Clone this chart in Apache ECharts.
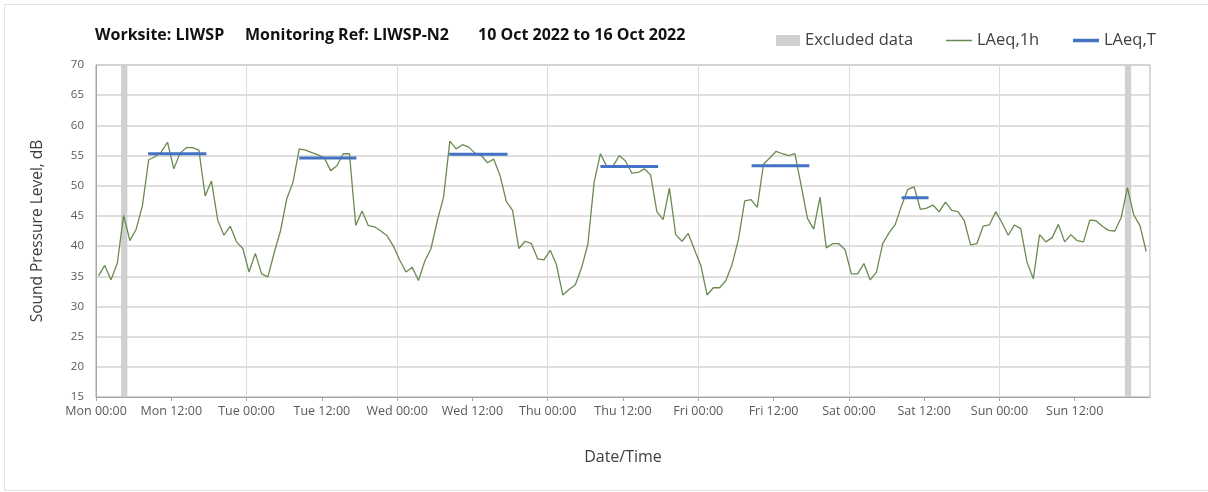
<!DOCTYPE html>
<html><head><meta charset="utf-8">
<script src="https://cdn.jsdelivr.net/npm/echarts@6/dist/echarts.min.js"></script>
<style>html,body{margin:0;padding:0;background:#fff}#c{width:1208px;height:492px}</style>
</head><body><div id="c"></div>
<script>
// ---- data ----
const tickLabels = ['Mon 00:00','Mon 12:00','Tue 00:00','Tue 12:00','Wed 00:00','Wed 12:00',
  'Thu 00:00','Thu 12:00','Fri 00:00','Fri 12:00','Sat 00:00','Sat 12:00','Sun 00:00','Sun 12:00'];
// hourly LAeq,1h values, hour 0 = Mon 10 Oct 2022 00:00
const laeq1h = [
  35.1,36.8,34.4,37.2,45.1,40.9,42.8,46.7,54.3,54.8,55.6,57.2,52.8,55.4,56.3,56.3,55.9,48.3,50.8,44.3,41.8,43.3,40.7,39.6,
  35.7,38.8,35.4,34.9,38.9,42.5,47.8,50.6,56.1,55.9,55.5,55.1,54.6,52.5,53.3,55.3,55.3,43.4,45.8,43.4,43.2,42.5,41.7,40.0,
  37.7,35.7,36.5,34.3,37.5,39.6,44.2,48.1,57.4,56.1,56.8,56.4,55.4,55.0,53.8,54.4,51.7,47.4,45.9,39.6,40.8,40.4,37.9,37.7,
  39.3,36.9,31.9,32.8,33.6,36.4,40.3,50.6,55.3,53.2,53.2,55.0,54.1,52.1,52.2,52.8,51.8,45.7,44.4,49.6,41.9,40.8,42.1,39.4,
  36.8,31.9,33.1,33.1,34.3,37.0,41.1,47.5,47.7,46.4,53.6,54.6,55.7,55.3,55.0,55.3,50.0,44.6,42.8,48.1,39.7,40.4,40.4,39.4,
  35.4,35.4,37.1,34.4,35.7,40.4,42.2,43.6,46.7,49.4,49.8,46.1,46.3,46.8,45.7,47.3,45.9,45.7,44.2,40.2,40.4,43.3,43.5,45.7,
  43.9,41.8,43.5,42.9,37.3,34.6,41.9,40.7,41.4,43.6,40.7,41.9,40.9,40.7,44.3,44.2,43.3,42.6,42.5,44.7,49.7,45.2,43.4,39.1
];
const hourOffset = 0.4; // hourly value plotted within its hour
// LAeq,T periods
const laeqTStart = [8.3, 32.4, 56.3, 80.4, 104.5, 128.4];
const laeqTEnd   = [17.6, 41.5, 65.6, 89.6, 113.7, 132.7];
const laeqTLevel = [55.3, 54.6, 55.2, 53.2, 53.3, 48.0];
// excluded data periods
const excludedStart = [4, 164];
const excludedEnd = [5, 165];

// ---- chart ----
const FONT = '"Open Sans", "Noto Sans", sans-serif';
const chart = echarts.init(document.getElementById('c'), null, {renderer: 'canvas'});

const lineData = laeq1h.map((v, i) => [i + hourOffset, v]);
const excludedData = excludedStart.map((s, i) => [s, excludedEnd[i]]);

const laeqTSeries = laeqTStart.map((s, i) => ({
  name: 'LAeq,T', type: 'line', xAxisIndex: 0, yAxisIndex: 0,
  data: [[s, laeqTLevel[i]], [laeqTEnd[i], laeqTLevel[i]]],
  symbol: 'none', silent: true, z: 4,
  lineStyle: {color: '#4472c4', width: 3, cap: 'butt'},
  itemStyle: {color: '#4472c4'}
}));

const titleStyle = {fontSize: 16, fontWeight: 'bold', color: '#111', fontFamily: FONT};
const legendText = {fontSize: 16.5, color: '#404040', fontFamily: FONT};

const option = {
  animation: false,
  backgroundColor: '#fff',
  textStyle: {fontFamily: FONT},
  title: [
    {text: 'Worksite: LIWSP', left: 95, top: 27, padding: 0, textStyle: titleStyle},
    {text: 'Monitoring Ref: LIWSP-N2', left: 245, top: 27, padding: 0, textStyle: titleStyle},
    {text: '10 Oct 2022 to 16 Oct 2022', left: 478, top: 27, padding: 0, textStyle: titleStyle}
  ],
  legend: [
    {data: ['Excluded data'], left: 776, top: 32, padding: 0, icon: 'rect', itemWidth: 24, itemHeight: 11,
     textStyle: legendText, selectedMode: false},
    {data: ['LAeq,1h'], left: 946, top: 32, padding: 0, icon: 'rect', itemWidth: 26, itemHeight: 1.5,
     textStyle: legendText, selectedMode: false},
    {data: ['LAeq,T'], left: 1073, top: 32, padding: 0, icon: 'rect', itemWidth: 26, itemHeight: 3.5,
     textStyle: legendText, selectedMode: false}
  ],
  grid: {left: 96, right: 58, top: 65, bottom: 95, show: true, borderColor: '#a6a6a6', borderWidth: 1, containLabel: false},
  xAxis: [
    {
      type: 'value', min: 0, max: 168, interval: 12,
      name: 'Date/Time', nameLocation: 'middle', nameGap: 52,
      nameTextStyle: {fontSize: 16, color: '#404040', fontFamily: FONT},
      axisLine: {show: true, lineStyle: {color: '#a6a6a6', width: 1}},
      axisTick: {show: true, length: 4, lineStyle: {color: '#a6a6a6'}},
      axisLabel: {fontSize: 12.5, color: '#595959', margin: 8, fontFamily: FONT,
        showMaxLabel: false,
        formatter: v => tickLabels[Math.round(v / 12)] || ''},
      splitLine: {show: false}
    },
    {
      type: 'value', min: 0, max: 168, interval: 24, position: 'bottom',
      axisLine: {show: false}, axisTick: {show: false}, axisLabel: {show: false},
      splitLine: {show: true, lineStyle: {color: '#dcdcdc', width: 1}}
    }
  ],
  yAxis: {
    type: 'value', min: 15, max: 70, interval: 5,
    name: 'Sound Pressure Level, dB', nameLocation: 'middle', nameGap: 50,
    nameTextStyle: {fontSize: 15.5, color: '#404040', fontFamily: FONT},
    axisLine: {show: true, lineStyle: {color: '#a6a6a6'}},
    axisTick: {show: false},
    axisLabel: {fontSize: 11.5, color: '#595959', margin: 12, fontFamily: FONT},
    splitLine: {show: true, lineStyle: {color: '#d3d3d3', width: 1.6}}
  },
  series: [
    {
      name: 'Excluded data', type: 'custom', xAxisIndex: 0, yAxisIndex: 0, silent: true, z: 1,
      itemStyle: {color: '#d0d0d0'},
      data: excludedData,
      renderItem: (params, api) => {
        const p0 = api.coord([api.value(0), 70]);
        const p1 = api.coord([api.value(1), 15]);
        return {type: 'rect', shape: {x: p0[0], y: p0[1], width: p1[0] - p0[0], height: p1[1] - p0[1]},
                style: {fill: '#d0d0d0'}};
      }
    },
    {
      name: 'LAeq,1h', type: 'line', xAxisIndex: 0, yAxisIndex: 0,
      data: lineData, symbol: 'none', silent: true, z: 3,
      lineStyle: {color: '#6b8a52', width: 1.3},
      itemStyle: {color: '#6b8a52'}
    },
    ...laeqTSeries
  ],
  graphic: [
    {type: 'rect', silent: true, z: -1, shape: {x: 4.5, y: 4.5, width: 1210, height: 486},
     style: {fill: 'none', stroke: '#e3e3e3', lineWidth: 1}}
  ]
};
chart.setOption(option);
</script>
</body></html>
